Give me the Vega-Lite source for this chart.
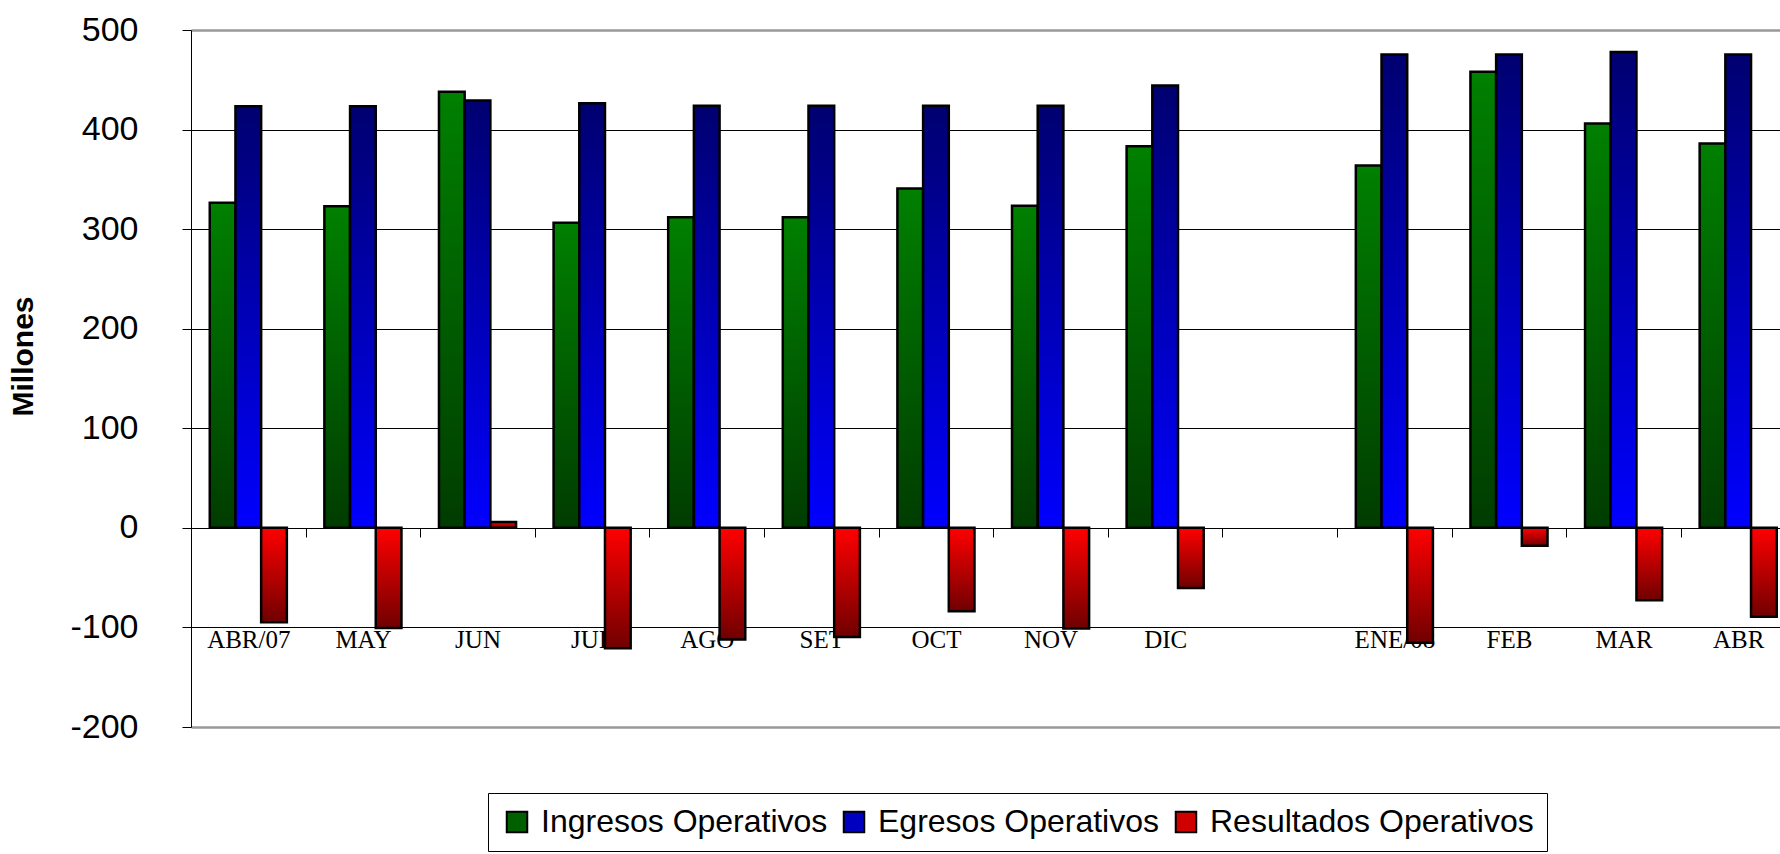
{
  "$schema": "https://vega.github.io/schema/vega-lite/v6.json",
  "width": 1589,
  "height": 697,
  "autosize": {"type": "none"},
  "padding": {"left": 191, "top": 30, "right": 0, "bottom": 127},
  "background": "white",
  "config": {
    "view": {"stroke": null},
    "font": "Liberation Sans"
  },
  "data": {
    "values": [
      {"mes": "ABR/07", "serie": "Ingresos Operativos", "valor": 326.5},
      {"mes": "ABR/07", "serie": "Egresos Operativos", "valor": 423.5},
      {"mes": "ABR/07", "serie": "Resultados Operativos", "valor": -94.8},
      {"mes": "MAY", "serie": "Ingresos Operativos", "valor": 323},
      {"mes": "MAY", "serie": "Egresos Operativos", "valor": 423.5},
      {"mes": "MAY", "serie": "Resultados Operativos", "valor": -100.5},
      {"mes": "JUN", "serie": "Ingresos Operativos", "valor": 438},
      {"mes": "JUN", "serie": "Egresos Operativos", "valor": 429.2},
      {"mes": "JUN", "serie": "Resultados Operativos", "valor": 6},
      {"mes": "JUL", "serie": "Ingresos Operativos", "valor": 306.4},
      {"mes": "JUL", "serie": "Egresos Operativos", "valor": 426.5},
      {"mes": "JUL", "serie": "Resultados Operativos", "valor": -121},
      {"mes": "AGO", "serie": "Ingresos Operativos", "valor": 312},
      {"mes": "AGO", "serie": "Egresos Operativos", "valor": 424},
      {"mes": "AGO", "serie": "Resultados Operativos", "valor": -112},
      {"mes": "SET", "serie": "Ingresos Operativos", "valor": 312},
      {"mes": "SET", "serie": "Egresos Operativos", "valor": 424},
      {"mes": "SET", "serie": "Resultados Operativos", "valor": -109.5},
      {"mes": "OCT", "serie": "Ingresos Operativos", "valor": 340.8},
      {"mes": "OCT", "serie": "Egresos Operativos", "valor": 424},
      {"mes": "OCT", "serie": "Resultados Operativos", "valor": -83.8},
      {"mes": "NOV", "serie": "Ingresos Operativos", "valor": 323.4},
      {"mes": "NOV", "serie": "Egresos Operativos", "valor": 424},
      {"mes": "NOV", "serie": "Resultados Operativos", "valor": -101},
      {"mes": "DIC", "serie": "Ingresos Operativos", "valor": 383.3},
      {"mes": "DIC", "serie": "Egresos Operativos", "valor": 444.3},
      {"mes": "DIC", "serie": "Resultados Operativos", "valor": -60.3},
      {"mes": "ENE/08", "serie": "Ingresos Operativos", "valor": 364},
      {"mes": "ENE/08", "serie": "Egresos Operativos", "valor": 475.4},
      {"mes": "ENE/08", "serie": "Resultados Operativos", "valor": -115.5},
      {"mes": "FEB", "serie": "Ingresos Operativos", "valor": 458},
      {"mes": "FEB", "serie": "Egresos Operativos", "valor": 475.4},
      {"mes": "FEB", "serie": "Resultados Operativos", "valor": -18},
      {"mes": "MAR", "serie": "Ingresos Operativos", "valor": 406},
      {"mes": "MAR", "serie": "Egresos Operativos", "valor": 478},
      {"mes": "MAR", "serie": "Resultados Operativos", "valor": -72.7},
      {"mes": "ABR", "serie": "Ingresos Operativos", "valor": 386},
      {"mes": "ABR", "serie": "Egresos Operativos", "valor": 475.4},
      {"mes": "ABR", "serie": "Resultados Operativos", "valor": -89.4}
    ]
  },
  "encoding": {
    "x": {
      "field": "mes",
      "type": "nominal",
      "sort": null,
      "scale": {
        "domain": ["ABR/07", "MAY", "JUN", "JUL", "AGO", "SET", "OCT", "NOV", "DIC", " ", "ENE/08", "FEB", "MAR", "ABR"],
        "paddingInner": 0,
        "paddingOuter": 0,
        "range": [0, 1604.5]
      },
      "axis": {
        "title": null,
        "orient": "bottom",
        "offset": -199,
        "grid": false,
        "domainColor": "#000",
        "domainWidth": 1,
        "ticks": true,
        "tickBand": "extent",
        "tickSize": 9,
        "tickColor": "#000",
        "tickWidth": 1,
        "labelAngle": 0,
        "labelFont": "Liberation Serif",
        "labelFontSize": 25,
        "labelColor": "#000",
        "labelBaseline": "top",
        "labelPadding": 90,
        "labelOverlap": false,
        "labelLimit": 0
      }
    },
    "xOffset": {
      "field": "serie",
      "type": "nominal",
      "sort": null,
      "scale": {
        "domain": ["Ingresos Operativos", "Egresos Operativos", "Resultados Operativos"],
        "paddingInner": 0,
        "paddingOuter": 0.73
      }
    },
    "y": {
      "field": "valor",
      "type": "quantitative",
      "scale": {"domain": [-200, 500], "nice": false, "zero": false},
      "axis": {
        "values": [-200, -100, 0, 100, 200, 300, 400, 500],
        "labelExpr": "'' + datum.value",
        "grid": true,
        "gridColor": {"condition": {"test": "datum.value === 500 || datum.value === -200", "value": "#999"}, "value": "#000"},
        "gridWidth": {"condition": {"test": "datum.value === 500 || datum.value === -200", "value": 2.5}, "value": 1},
        "domainColor": "#000",
        "domainWidth": 1,
        "tickSize": 9,
        "tickColor": "#000",
        "tickWidth": 1,
        "labelFont": "Liberation Sans",
        "labelFontSize": 34,
        "labelColor": "#000",
        "labelPadding": 44,
        "labelBaseline": "middle",
        "title": "Millones",
        "titleFont": "Liberation Sans",
        "titleFontWeight": "bold",
        "titleFontSize": 30,
        "titleColor": "#000",
        "titleAngle": -90,
        "titleX": -168,
        "titleY": 326,
        "titleAlign": "center",
        "titleBaseline": "middle"
      }
    }
  },
  "layer": [
    {
      "mark": {"type": "bar", "strokeWidth": 0},
      "encoding": {
        "fill": {
          "field": "serie",
          "type": "nominal",
          "sort": null,
          "scale": {
            "domain": ["Ingresos Operativos", "Egresos Operativos", "Resultados Operativos"],
            "range": ["#006000", "#0000C0", "#D00000"]
          },
          "legend": {
            "title": null,
            "orient": "none",
            "legendX": 297,
            "legendY": 763,
            "direction": "horizontal",
            "columns": 3,
            "symbolType": "square",
            "symbolSize": 420,
            "symbolStrokeColor": "#000",
            "symbolStrokeWidth": 2,
            "symbolOpacity": 1,
            "labelFont": "Liberation Sans",
            "labelFontSize": 32,
            "labelColor": "#000",
            "labelOffset": 8,
            "labelLimit": 0,
            "columnPadding": 10,
            "padding": 13,
            "strokeColor": "#000",
            "fillColor": "#fff"
          }
        }
      }
    },
    {
      "transform": [{"filter": "datum.serie === 'Ingresos Operativos'"}],
      "mark": {
        "type": "bar",
        "stroke": "#000",
        "strokeWidth": 2.5,
        "fill": {"gradient": "linear", "x1": 0, "y1": 0, "x2": 0, "y2": 1, "stops": [{"offset": 0, "color": "#008000"}, {"offset": 1, "color": "#003c00"}]}
      }
    },
    {
      "transform": [{"filter": "datum.serie === 'Egresos Operativos'"}],
      "mark": {
        "type": "bar",
        "stroke": "#000",
        "strokeWidth": 2.5,
        "fill": {"gradient": "linear", "x1": 0, "y1": 0, "x2": 0, "y2": 1, "stops": [{"offset": 0, "color": "#000070"}, {"offset": 1, "color": "#0000ff"}]}
      }
    },
    {
      "transform": [{"filter": "datum.serie === 'Resultados Operativos'"}],
      "mark": {
        "type": "bar",
        "stroke": "#000",
        "strokeWidth": 2.5,
        "fill": {"gradient": "linear", "x1": 0, "y1": 0, "x2": 0, "y2": 1, "stops": [{"offset": 0, "color": "#ff0000"}, {"offset": 1, "color": "#700000"}]}
      }
    }
  ]
}
